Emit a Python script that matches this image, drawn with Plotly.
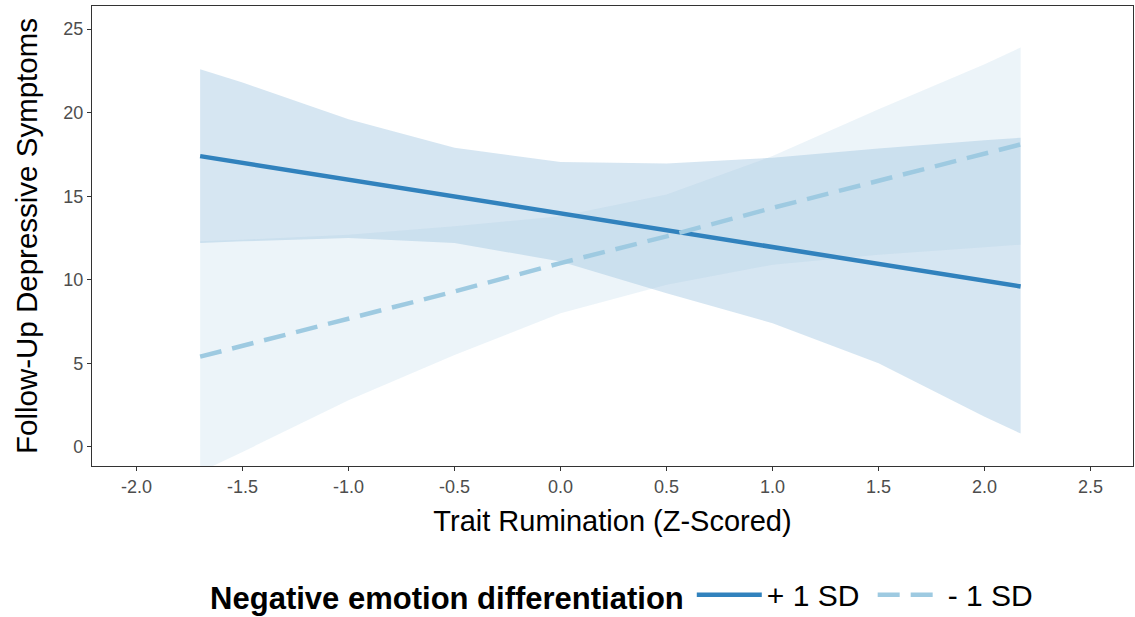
import plotly.graph_objects as go

# Trait rumination (z-scored) positions where values were read
x_vals = [-1.7, -1.5, -1.0, -0.5, 0.0, 0.5, 1.0, 1.5, 2.0, 2.17]

# + 1 SD negative emotion differentiation
plus_fit = [17.4, 17.0, 16.0, 15.0, 14.0, 13.0, 12.0, 11.0, 9.95, 9.6]
plus_upper = [22.6, 21.8, 19.6, 17.9, 17.05, 16.95, 17.3, 17.85, 18.35, 18.5]
plus_lower = [12.2, 12.3, 12.5, 12.2, 11.1, 9.2, 7.4, 5.0, 1.8, 0.8]

# - 1 SD negative emotion differentiation
minus_fit = [5.4, 6.05, 7.7, 9.3, 11.0, 12.6, 14.3, 15.9, 17.55, 18.1]
minus_upper = [12.3, 12.4, 12.7, 13.2, 13.8, 15.1, 17.4, 20.2, 22.9, 23.9]
minus_lower = [-1.5, -0.3, 2.8, 5.5, 8.0, 9.7, 10.9, 11.5, 11.95, 12.1]

x_ticks = [-2.0, -1.5, -1.0, -0.5, 0.0, 0.5, 1.0, 1.5, 2.0, 2.5]
x_ticktext = ["-2.0", "-1.5", "-1.0", "-0.5", "0.0", "0.5", "1.0", "1.5", "2.0", "2.5"]
y_ticks = [0, 5, 10, 15, 20, 25]

series_names = ["+ 1 SD ", "- 1 SD"]
line_colors = ["#3182bd", "#9ecae1"]
band_colors = ["rgba(49,130,189,0.2)", "rgba(158,202,225,0.2)"]

FONT = "Liberation Sans, Arial, sans-serif"

fig = go.Figure()

for upper, lower, col in [(plus_upper, plus_lower, band_colors[0]),
                          (minus_upper, minus_lower, band_colors[1])]:
    fig.add_trace(go.Scatter(x=x_vals, y=upper, mode="lines", line=dict(width=0),
                             showlegend=False, hoverinfo="skip"))
    fig.add_trace(go.Scatter(x=x_vals, y=lower, mode="lines", line=dict(width=0),
                             fill="tonexty", fillcolor=col, showlegend=False,
                             hoverinfo="skip"))

fig.add_trace(go.Scatter(x=x_vals, y=plus_fit, mode="lines", name=series_names[0],
                         line=dict(color=line_colors[0], width=4.5)))
fig.add_trace(go.Scatter(x=x_vals, y=minus_fit, mode="lines", name=series_names[1],
                         line=dict(color=line_colors[1], width=4.5, dash="22px,11px")))

axis_common = dict(
    showgrid=False, zeroline=False, showline=True, linecolor="#333333", linewidth=1.3,
    mirror=True, ticks="outside", ticklen=4, tickwidth=1.1, tickcolor="#333333",
    tickfont=dict(family=FONT, size=18, color="#4d4d4d"),
)

fig.update_xaxes(range=[-2.21, 2.70], tickvals=x_ticks, ticktext=x_ticktext,
                 title=dict(text="Trait Rumination (Z-Scored)", standoff=14,
                            font=dict(family=FONT, size=29, color="#000000")),
                 **axis_common)
fig.update_yaxes(range=[-1.14, 26.38], tickvals=y_ticks,
                 title=dict(text="Follow-Up Depressive Symptoms", standoff=16,
                            font=dict(family=FONT, size=29.5, color="#000000")),
                 **axis_common)

fig.update_layout(
    width=1135, height=617,
    margin=dict(l=92, r=2, t=6, b=151, autoexpand=False),
    plot_bgcolor="white", paper_bgcolor="white",
    font=dict(family=FONT),
    legend=dict(
        orientation="h", xref="container", yref="container",
        x=0.549, xanchor="center", y=0.036, yanchor="middle",
        traceorder="normal",
        title=dict(text="<b>Negative emotion differentiation</b>", side="left",
                   font=dict(size=31, color="#000000")),
        font=dict(size=30, color="#000000"),
        itemwidth=65,
    ),
)

fig.write_html("out.html", config={"displayModeBar": False},
               post_script="document.body.style.margin='0';")
